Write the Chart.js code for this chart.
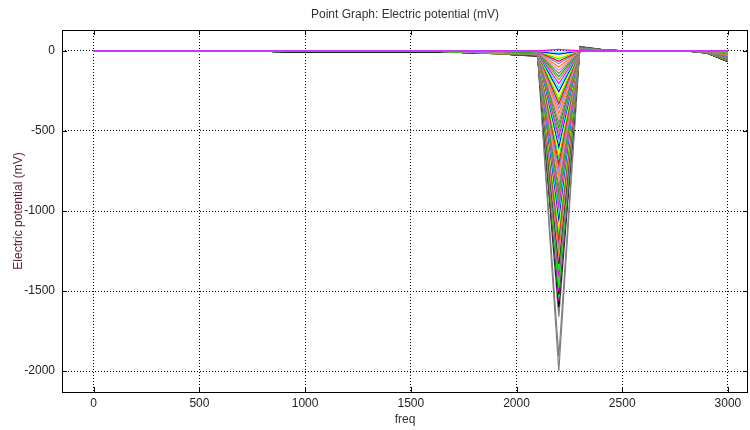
<!DOCTYPE html>
<html><head><meta charset="utf-8">
<script src="https://cdn.jsdelivr.net/npm/chart.js@4.4.0/dist/chart.umd.min.js"></script>
<style>html,body{margin:0;padding:0;background:#fff}</style>
</head><body>
<canvas id="c" width="750" height="430"></canvas>
<script>
// ---- data ----
const freq = [0,100,200,300,400,500,600,700,800,900,1000,1100,1200,1300,1400,1500,1600,1700,1800,1900,2000,2100,2200,2300,2400,2500,2600,2700,2800,2900,3000];
const xTicks = [0,500,1000,1500,2000,2500,3000];
const yTicks = [-2000,-1500,-1000,-500,0];

// value of each series (60 curves) at the frequencies where they leave 0
const pre900to1600 = [0,0,0,0,0,0,0,0,0,0, 0,0,0,0,0,0,0,0,0,0, 0,0,0,0,0,0,0,0,0,0, 0,0,0,0,0,0,0,0,0,0, 0,0,0,0,0,-7,-7,-7,-7,-7, -7,-7,-7,-7,-7,-7,-7,-7,-7,-7];
const v1700 = [0,0,0,0,0,0,0,0,0,0, 0,0,0,0,0,0,0,0,0,0, 0,0,0,0,0,0,0,0,0,0, 0,0,0,0,0,0,0,0,0,0, -8,-8,-8,-8,-8,-8,-8,-8,-8,-8, -8,-8,-8,-8,-8,-8,-8,-8,-8,-8];
const v1800 = [0,0,0,0,0,0,0,0,0,0, 0,0,0,0,0,0,0,0,0,0, 0,0,0,0,0,0,0,0,0,0, -9,-9,-9,-9,-9,-9,-9,-9,-9,-9, -9,-9,-9,-9,-9,-12,-12,-12,-12,-12, -12,-12,-12,-12,-12,-12,-12,-12,-12,-12];
const v1900 = [0,0,0,0,0,0,0,0,0,0, 0,0,0,0,0,0,0,0,0,0, -6,-6,-6,-6,-6,-6,-6,-6,-6,-6, -6,-6,-6,-6,-6,-6,-6,-6,-6,-6, -16,-16,-16,-16,-16,-16,-16,-16,-16,-16, -16,-16,-16,-16,-16,-16,-16,-16,-16,-16];
const v2000 = [0,0,0,0,0,0,0,0,0,0, -8,-8,-8,-8,-8,-8,-8,-8,-8,-8, -8,-8,-8,-8,-8,-8,-8,-8,-8,-8, -15,-15,-15,-15,-15,-15,-15,-15,-15,-15, -15,-15,-15,-15,-15,-15,-15,-15,-15,-15, -25,-25,-25,-25,-25,-25,-25,-25,-25,-25];
const v2100 = [0,-1,-2,-2,-3,-3,-4,-4,-5,-5, -6,-6,-7,-7,-8,-8,-9,-9,-10,-10, -11,-11,-12,-12,-13,-13,-14,-14,-15,-15, -16,-16,-17,-17,-18,-18,-19,-19,-20,-20, -21,-21,-22,-22,-23,-23,-24,-24,-25,-25, -26,-27,-28,-29,-30,-31,-32,-33,-34,-35];
const v2200 = [10,-8,-20,-35,-50,-65,-80,-100,-120,-140, -160,-180,-205,-230,-255,-280,-305,-330,-360,-390, -420,-450,-480,-510,-540,-570,-600,-635,-670,-705, -740,-775,-810,-850,-890,-930,-970,-1010,-1050,-1090, -1130,-1170,-1210,-1250,-1290,-1330,-1370,-1410,-1450,-1480, -1500,-1520,-1540,-1560,-1580,-1600,-1640,-1660,-1910,-2000];
const v2300 = [0,0,0,0,1,1,1,1,2,2, 2,3,3,3,4,4,4,5,5,5, 6,6,6,7,7,8,8,9,9,10, 10,11,11,12,12,13,13,14,14,15, 16,16,17,17,18,19,19,20,20,21, 22,22,23,24,24,25,26,27,27,28];
const v2400 = [0,0,0,0,0,0,0,0,0,0, 0,0,0,0,0,0,0,0,0,0, 0,0,0,0,0,0,0,0,0,0, 2,2,2,3,3,3,3,4,4,4, 4,5,5,5,5,6,6,6,7,7, 7,8,8,8,9,9,9,10,10,10];
const v2900 = [0,0,0,0,0,0,0,0,0,0, 0,0,0,0,0,0,0,0,0,0, -1,-1,-1,-2,-2,-2,-2,-3,-3,-3, -3,-4,-4,-4,-5,-5,-5,-6,-6,-6, -6,-7,-7,-7,-8,-8,-8,-9,-9,-10, -10,-10,-11,-11,-12,-12,-12,-13,-13,-14];
const v3000 = [0,0,0,0,0,0,0,0,0,0, -1,-2,-3,-4,-5,-6,-7,-8,-9,-10, -11,-12,-13,-14,-15,-16,-17,-18,-19,-20, -22,-24,-26,-28,-30,-32,-34,-36,-38,-40, -42,-44,-46,-48,-50,-52,-54,-56,-58,-60, -61,-62,-63,-64,-65,-65,-66,-66,-67,-67];

// ---- styles ----
const cycle = ['#ff00ff','#00ffff','#0000ff','#ffff00','#00ff00','#ff0000','#8080ff','#ff8000','#ff80c0','#808080','#00c000','#c08040'];
const deepColors = ['#000000','#00ff00','#ff00ff','#00ff00','#00ff00','#ff00ff','#000000','#00ff00','#ff00ff','#000000','#000000','#808080','#808080','#808080','#808080'];

const columns = {1700:v1700,1800:v1800,1900:v1900,2000:v2000,2100:v2100,2200:v2200,2300:v2300,2400:v2400,2900:v2900,3000:v3000};
function valueAt(f, i){
  if (f >= 900 && f <= 1600) return pre900to1600[i];
  if (columns[f]) return columns[f][i];
  return 0;
}
const nSeries = v2200.length;
const datasets = [];
for (let i = 0; i < nSeries; i++) {
  const color = i < 45 ? cycle[i % cycle.length] : deepColors[i - 45];
  datasets.push({
    data: freq.map(f => ({x: f, y: valueAt(f, i)})),
    borderColor: color, backgroundColor: color,
    borderWidth: 1.2, pointRadius: 0, tension: 0, fill: false
  });
}

const FONT = "'Liberation Sans', Arial, sans-serif";

const framePlugin = {
  id: 'frame',
  afterDraw(chart) {
    const {ctx, chartArea: a, scales} = chart;
    ctx.save();
    ctx.strokeStyle = '#000';
    ctx.lineWidth = 1;
    ctx.strokeRect(Math.round(a.left) + 0.5, Math.round(a.top) + 0.5, Math.round(a.right - a.left) - 1, Math.round(a.bottom - a.top));
    ctx.beginPath();
    xTicks.forEach(v => {
      const x = Math.round(scales.x.getPixelForValue(v)) + 0.5;
      ctx.moveTo(x, a.bottom); ctx.lineTo(x, a.bottom - 5);
      ctx.moveTo(x, a.top); ctx.lineTo(x, a.top + 5);
    });
    yTicks.forEach(v => {
      const y = Math.round(scales.y.getPixelForValue(v)) + 0.5;
      ctx.moveTo(a.left, y); ctx.lineTo(a.left + 5, y);
      ctx.moveTo(a.right, y); ctx.lineTo(a.right - 5, y);
    });
    ctx.stroke();
    ctx.fillStyle = '#333';
    ctx.font = '12px ' + FONT;
    ctx.textAlign = 'center';
    ctx.textBaseline = 'middle';
    ctx.fillText('Point Graph: Electric potential (mV)', (a.left + a.right) / 2, 15);
    ctx.restore();
  }
};

new Chart(document.getElementById('c'), {
  type: 'line',
  data: { datasets },
  plugins: [framePlugin],
  options: {
    responsive: false,
    animation: false,
    devicePixelRatio: 1,
    layout: { padding: { top: 30, right: 2, left: 0, bottom: 0 } },
    plugins: { legend: { display: false }, tooltip: { enabled: false }, title: { display: false } },
    scales: {
      x: {
        type: 'linear', min: -150, max: 3095,
        afterBuildTicks: s => { s.ticks = xTicks.map(v => ({value: v})); },
        afterFit: s => { s.height = 38; },
        grid: { color: '#000', lineWidth: 1, drawTicks: false },
        border: { display: false, dash: [1, 2] },
        ticks: { color: '#222', font: { family: FONT, size: 12 }, padding: 4, maxRotation: 0, callback: v => String(v) },
        title: { display: true, text: 'freq', color: '#333', font: { family: FONT, size: 12 }, padding: { top: 0, bottom: 3 } }
      },
      y: {
        type: 'linear', min: -2131, max: 131,
        afterBuildTicks: s => { s.ticks = yTicks.map(v => ({value: v})); },
        afterFit: s => { s.width = 62; },
        grid: { color: '#000', lineWidth: 1, drawTicks: false },
        border: { display: false, dash: [1, 2] },
        ticks: { color: '#222', font: { family: FONT, size: 12 }, padding: 7, callback: v => String(v) },
        title: { display: true, text: 'Electric potential (mV)', color: '#602030', font: { family: FONT, size: 12 }, padding: { top: 11, bottom: 0 } }
      }
    }
  }
});
</script>
</body></html>
